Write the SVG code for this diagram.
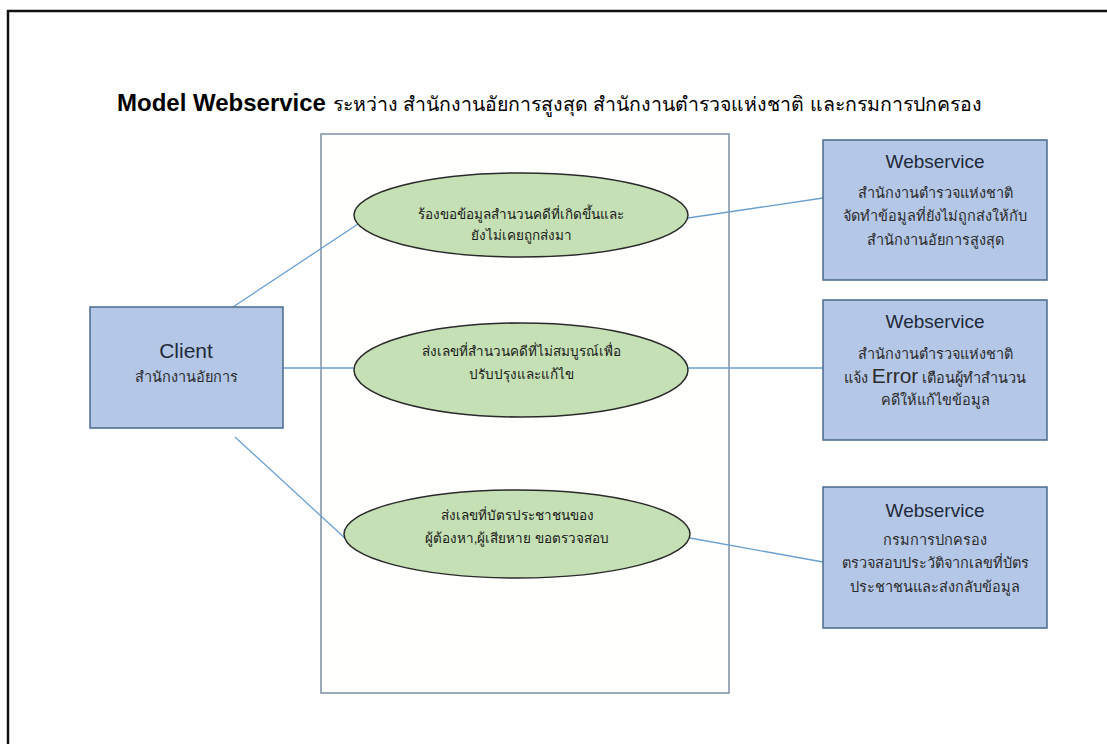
<svg xmlns="http://www.w3.org/2000/svg" width="1107" height="744" viewBox="0 0 1107 744">
<style>
text{font-family:"Liberation Sans","Noto Sans",sans-serif;text-anchor:middle;fill:#2b2b2b}
.box{fill:#b4c7e7;stroke:#4a6a8c;stroke-width:1.5}
.ell{fill:#c5e0b4;stroke:#2a2a2a;stroke-width:1.5}
.con{stroke:#6a9fd0;stroke-width:1.3;fill:none}
.ws{font-size:19px;fill:#1f2a3a}
.th{font-size:14.5px;fill:#2b2b2b}
.et{font-size:13.5px;fill:#1a1a1a}
</style>
<rect width="1107" height="744" fill="#ffffff"/>
<path d="M8,744 V11 H1107" fill="none" stroke="#111" stroke-width="2.5"/>
<text x="117" y="111" style="text-anchor:start;font-size:24px;font-weight:bold;fill:#000">Model Webservice <tspan style="font-size:19.5px;font-weight:normal">ระหว่าง สำนักงานอัยการสูงสุด สำนักงานตำรวจแห่งชาติ และกรมการปกครอง</tspan></text>
<g id="container"><rect x="321" y="134" width="408" height="559" fill="#fffffd" stroke="#7d8ea3" stroke-width="1.5"/></g>
<g id="connectors">
<line class="con" x1="233" y1="307" x2="358" y2="224"/>
<line class="con" x1="283" y1="368" x2="355" y2="368"/>
<line class="con" x1="235" y1="437" x2="347" y2="540"/>
<line class="con" x1="688" y1="218" x2="823" y2="198"/>
<line class="con" x1="688" y1="368" x2="823" y2="368"/>
<line class="con" x1="690" y1="538" x2="823" y2="562"/>
</g>
<g id="client">
<rect class="box" x="90" y="307" width="193" height="121"/>
<text x="186" y="358" style="font-size:21px;fill:#1f2a3a">Client</text>
<text x="186" y="382" class="th">สำนักงานอัยการ</text>
</g>
<g id="uc1">
<ellipse class="ell" cx="521" cy="215" rx="167" ry="42"/>
<text x="521" y="219" class="et">ร้องขอข้อมูลสำนวนคดีที่เกิดขึ้นและ</text>
<text x="521" y="240" class="et">ยังไม่เคยถูกส่งมา</text>
</g>
<g id="uc2">
<ellipse class="ell" cx="521" cy="370" rx="167" ry="47"/>
<text x="521" y="356" class="et">ส่งเลขที่สำนวนคดีที่ไม่สมบูรณ์เพื่อ</text>
<text x="521" y="379" class="et">ปรับปรุงและแก้ไข</text>
</g>
<g id="uc3">
<ellipse class="ell" cx="517" cy="534" rx="173" ry="44"/>
<text x="517" y="520" class="et">ส่งเลขที่บัตรประชาชนของ</text>
<text x="517" y="543" class="et">ผู้ต้องหา,ผู้เสียหาย ขอตรวจสอบ</text>
</g>
<g id="ws1">
<rect class="box" x="823" y="140" width="224" height="140"/>
<text x="935" y="168" class="ws">Webservice</text>
<text x="935" y="198" class="th">สำนักงานตำรวจแห่งชาติ</text>
<text x="935" y="221" class="th">จัดทำข้อมูลที่ยังไม่ถูกส่งให้กับ</text>
<text x="935" y="245" class="th">สำนักงานอัยการสูงสุด</text>
</g>
<g id="ws2">
<rect class="box" x="823" y="300" width="224" height="140"/>
<text x="935" y="328" class="ws">Webservice</text>
<text x="935" y="359" class="th">สำนักงานตำรวจแห่งชาติ</text>
<text x="935" y="383" class="th">แจ้ง <tspan style="font-size:21px">Error</tspan> เตือนผู้ทำสำนวน</text>
<text x="935" y="405" class="th">คดีให้แก้ไขข้อมูล</text>
</g>
<g id="ws3">
<rect class="box" x="823" y="487" width="224" height="141"/>
<text x="935" y="517" class="ws">Webservice</text>
<text x="935" y="545" class="th">กรมการปกครอง</text>
<text x="935" y="568" class="th">ตรวจสอบประวัติจากเลขที่บัตร</text>
<text x="935" y="592" class="th">ประชาชนและส่งกลับข้อมูล</text>
</g>
</svg>
